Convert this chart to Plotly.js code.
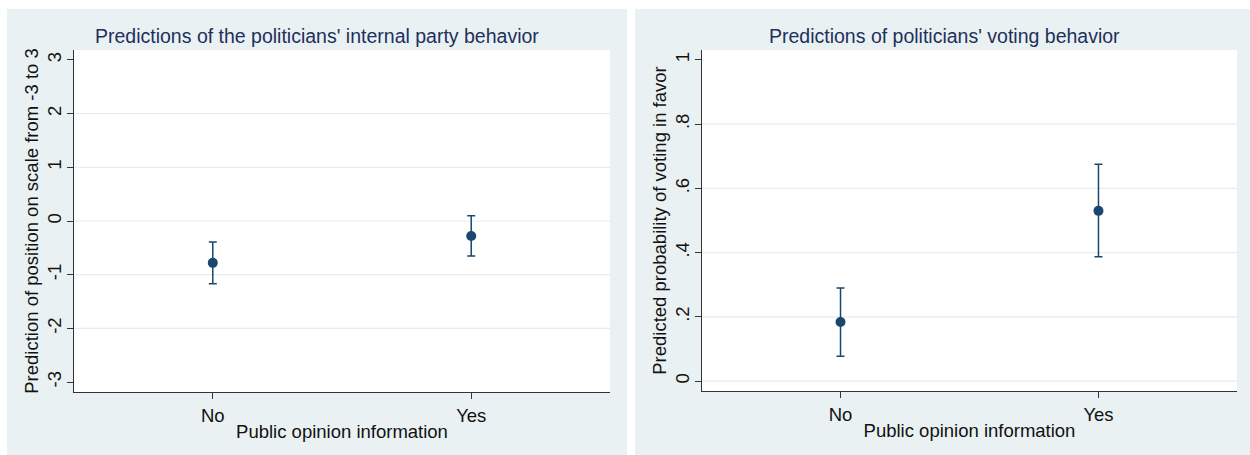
<!DOCTYPE html>
<html>
<head>
<meta charset="utf-8">
<script src="https://cdn.plot.ly/plotly-3.0.1.min.js"></script>
<style>html,body{margin:0;padding:0;background:#fff;}#chart{width:1250px;height:455px;}</style>
</head>
<body>
<div id="chart"></div>
<script>
// ---- data ----
const categories = ['No', 'Yes'];
const catPos = [0, 1];

const partyEst = [-0.78, -0.28];
const partyLo  = [-1.17, -0.65];
const partyHi  = [-0.39, 0.10];

const voteEst = [0.184, 0.530];
const voteLo  = [0.077, 0.387];
const voteHi  = [0.290, 0.675];

const partyTickVals = [-3, -2, -1, 0, 1, 2, 3];
const partyTickText = ['-3', '-2', '-1', '0', '1', '2', '3'];
const partyGridVals = [-2, -1, 0, 1, 2];
const voteTickVals = [0, 0.2, 0.4, 0.6, 0.8, 1];
const voteTickText = ['0', '.2', '.4', '.6', '.8', '1'];
const voteGridVals = [0, 0.2, 0.4, 0.6, 0.8];

const title1 = "Predictions of the politicians' internal party behavior";
const title2 = "Predictions of politicians' voting behavior";
const yTitle1 = 'Prediction of position on scale from -3 to 3';
const yTitle2 = 'Predicted probability of voting in favor';
const xTitle = 'Public opinion information';

// ---- style ----
const W = 1250, H = 455;
const navy = '#1a476f';
const panelBg = '#EAF1F3';
const gridC = '#E4EDEF';
const font = 'Liberation Sans, Arial, Helvetica, sans-serif';
const FS = 18.5;
const px = v => v / W;
const py = v => 1 - v / H;

function trace(est, lo, hi, xa, ya) {
  return {
    type: 'scatter', mode: 'markers', x: catPos, y: est, xaxis: xa, yaxis: ya,
    marker: {color: navy, size: 10},
    error_y: {type: 'data', symmetric: false,
      array: hi.map((h, i) => h - est[i]),
      arrayminus: lo.map((l, i) => est[i] - l),
      color: navy, thickness: 1.5, width: 4},
    showlegend: false, hoverinfo: 'skip'
  };
}

function xaxis(domain, anchor) {
  return {domain: domain, anchor: anchor, range: [-0.537, 1.537],
    tickvals: catPos, ticktext: categories, ticks: 'outside', ticklen: 6,
    tickcolor: '#333', showline: true, linecolor: '#333', linewidth: 1.3,
    showgrid: false, zeroline: false, fixedrange: true,
    tickfont: {family: font, size: FS, color: '#111'},
    title: {text: xTitle, font: {family: font, size: FS, color: '#111'}, standoff: 0}};
}
function yaxis(domain, anchor, range, tv, tt, title) {
  return {domain: domain, anchor: anchor, range: range,
    tickvals: tv, ticktext: tt, tickangle: -90, ticks: 'outside', ticklen: 6,
    ticklabelstandoff: -2,
    tickcolor: '#333', showline: true, linecolor: '#333', linewidth: 1.3,
    showgrid: false, zeroline: false, fixedrange: true,
    tickfont: {family: font, size: FS, color: '#111'},
    title: {text: title, font: {family: font, size: FS, color: '#111'}, standoff: 0}};
}

function gridShapes(vals, xref, yref) {
  return vals.map(v => ({type: 'line', xref: xref + ' domain', yref: yref, x0: 0, x1: 1, y0: v, y1: v,
    line: {color: gridC, width: 1.2}, layer: 'below'}));
}

const layout = {
  width: W, height: H,
  margin: {l: 0, r: 0, t: 0, b: 0},
  paper_bgcolor: '#ffffff', plot_bgcolor: 'rgba(0,0,0,0)',
  font: {family: font},
  xaxis: xaxis([px(74), px(610)], 'y'),
  yaxis: yaxis([py(392), py(50)], 'x', [-3.186, 3.186], partyTickVals, partyTickText, yTitle1),
  xaxis2: xaxis([px(702), px(1237)], 'y2'),
  yaxis2: yaxis([py(391), py(50)], 'x2', [-0.031, 1.031], voteTickVals, voteTickText, yTitle2),
  shapes: [
    {type: 'rect', xref: 'paper', yref: 'paper', x0: px(7), x1: px(627), y0: py(455), y1: py(9), fillcolor: panelBg, line: {width: 0}, layer: 'below'},
    {type: 'rect', xref: 'paper', yref: 'paper', x0: px(635), x1: px(1250), y0: py(455), y1: py(9), fillcolor: panelBg, line: {width: 0}, layer: 'below'},
    {type: 'rect', xref: 'paper', yref: 'paper', x0: px(74), x1: px(610), y0: py(392), y1: py(50), fillcolor: '#ffffff', line: {width: 0}, layer: 'below'},
    {type: 'rect', xref: 'paper', yref: 'paper', x0: px(702), x1: px(1237), y0: py(391), y1: py(50), fillcolor: '#ffffff', line: {width: 0}, layer: 'below'}
  ].concat(gridShapes(partyGridVals, 'x', 'y'), gridShapes(voteGridVals, 'x2', 'y2')),
  annotations: [
    {text: title1, xref: 'paper', yref: 'paper', x: px(317), y: py(36), xanchor: 'center', yanchor: 'middle', showarrow: false, font: {family: font, size: 19.5, color: '#1e305c'}},
    {text: title2, xref: 'paper', yref: 'paper', x: px(944), y: py(36), xanchor: 'center', yanchor: 'middle', showarrow: false, font: {family: font, size: 19.5, color: '#1e305c'}}
  ]
};

Plotly.newPlot('chart', [
  trace(partyEst, partyLo, partyHi, 'x', 'y'),
  trace(voteEst, voteLo, voteHi, 'x2', 'y2')
], layout, {staticPlot: true, displayModeBar: false});
</script>
</body>
</html>
